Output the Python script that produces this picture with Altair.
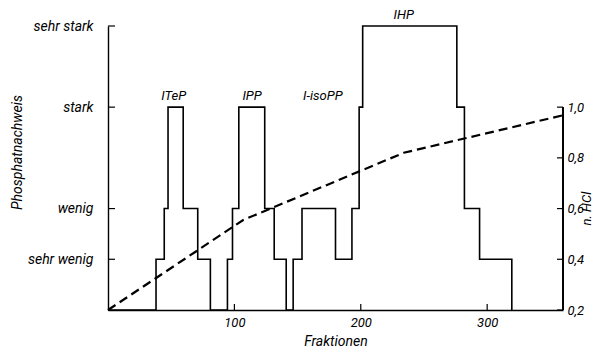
import altair as alt
import pandas as pd

# Phosphatnachweis step profile (Fraktion where a level begins, level reached)
step_x = [0, 38, 44.5, 47.5, 59.5, 71, 81, 94.5, 98.5, 103.5, 124, 131.5, 141,
          146.5, 153.5, 180, 193, 198.7, 201.5, 276, 282, 294, 319.5]
step_level = [0, 1, 2, 4, 2, 1, 0, 1, 2, 4, 2, 1, 0,
              1, 2, 1, 2, 4, 5.6, 4, 2, 1, 0]

# intensity levels on the left axis
level_values = [1, 2, 4, 5.6]
level_names = ["sehr wenig", "wenig", "stark", "sehr stark"]

# n HCl gradient (dashed)
hcl_x = [0, 107, 234, 360]
hcl_y = [0.2, 0.555, 0.82, 0.968]

# peak labels
peak_names = ["ITeP", "IPP", "I-isoPP", "IHP"]
peak_x = [52, 114, 170, 234]
peak_level = [4, 4, 4, 5.6]

x_ticks = [100, 200, 300]
hcl_ticks = [0.2, 0.4, 0.6, 0.8, 1.0]

FONT = "Roboto"
W, H = 455, 284

step_df = pd.DataFrame({"x": step_x, "level": step_level})
hcl_df = pd.DataFrame({"x": hcl_x, "hcl": hcl_y})
peak_df = pd.DataFrame({"name": peak_names, "x": peak_x, "level": peak_level})
lt_df = pd.DataFrame({"level": level_values})
xt_df = pd.DataFrame({"x": x_ticks})
rt_df = pd.DataFrame({"hcl": hcl_ticks})

xscale = alt.Scale(domain=[0, 360], nice=False, zero=False)
lscale = alt.Scale(domain=[0, 5.6], nice=False, zero=False)
rscale = alt.Scale(domain=[0.2, 1.32], nice=False, zero=False)

left_expr = " : ".join(
    f"datum.value == {v} ? '{n}'" for v, n in zip(level_values, level_names)
) + " : ''"

xaxis = alt.Axis(
    values=x_ticks, ticks=False, labelPadding=6, labelFontSize=13,
    title="Fraktionen", titleFontSize=14, titleY=31, titleBaseline="middle",
    titleFontWeight="normal")
laxis = alt.Axis(
    values=level_values, labelExpr=left_expr, ticks=False, labelPadding=15,
    labelFontSize=14, title="Phosphatnachweis", titleFontSize=14,
    titleX=-91, titleY=126, titleBaseline="middle", titleFontWeight="normal")
raxis = alt.Axis(
    orient="right", values=hcl_ticks, domain=False, ticks=False,
    labelPadding=4, labelFontSize=13,
    labelExpr="replace(format(datum.value, '.1f'), '.', ',')",
    title="n. HCl", titleAngle=270, titleX=23, titleY=182,
    titleBaseline="middle", titleFontSize=13, titleFontWeight="normal")

step = alt.Chart(step_df).mark_line(
    interpolate="step-after", color="black", strokeWidth=1.6
).encode(
    x=alt.X("x:Q", scale=xscale, axis=xaxis),
    y=alt.Y("level:Q", scale=lscale, axis=laxis),
)

left_ticks = alt.Chart(lt_df).mark_rule(color="black", strokeWidth=1.2).encode(
    y=alt.Y("level:Q", scale=lscale, axis=laxis),
    x=alt.value(0), x2=alt.value(7),
)

x_tick_marks = alt.Chart(xt_df).mark_rule(color="black", strokeWidth=1.2).encode(
    x=alt.X("x:Q", scale=xscale, axis=xaxis),
    y=alt.value(H), y2=alt.value(H - 6),
)

labels = alt.Chart(peak_df).mark_text(
    font=FONT, fontStyle="italic", fontSize=13, dy=-11, color="black"
).encode(
    x=alt.X("x:Q", scale=xscale, axis=xaxis),
    y=alt.Y("level:Q", scale=lscale, axis=laxis),
    text="name:N",
)

left_group = alt.layer(step, left_ticks, x_tick_marks, labels)

hcl = alt.Chart(hcl_df).mark_line(
    color="black", strokeWidth=2.2, strokeDash=[9, 5]
).encode(
    x=alt.X("x:Q", scale=xscale, axis=xaxis),
    y=alt.Y("hcl:Q", scale=rscale, axis=raxis),
)

right_ticks = alt.Chart(rt_df).mark_rule(color="black", strokeWidth=1.2).encode(
    y=alt.Y("hcl:Q", scale=rscale, axis=raxis),
    x=alt.value(W), x2=alt.value(W - 6),
)

right_line = alt.Chart(rt_df).mark_rule(color="black", strokeWidth=1.2).encode(
    y=alt.datum(0.2, scale=rscale, axis=raxis), y2=alt.datum(1.0),
    x=alt.value(W),
)

right_group = alt.layer(hcl, right_ticks, right_line)

chart = alt.layer(left_group, right_group).resolve_scale(
    y="independent"
).properties(
    width=W, height=H,
    autosize=alt.AutoSizeParams(type="none"),
    padding={"left": 100, "top": 18, "right": 31, "bottom": 38},
).configure_axis(
    grid=False, domainColor="black", domainWidth=1.4,
    labelFont=FONT, titleFont=FONT, labelFontStyle="italic",
    titleFontStyle="italic", labelColor="black", titleColor="black",
).configure_view(stroke=None)

chart.save("out.html", embed_options={"renderer": "svg", "actions": False})
